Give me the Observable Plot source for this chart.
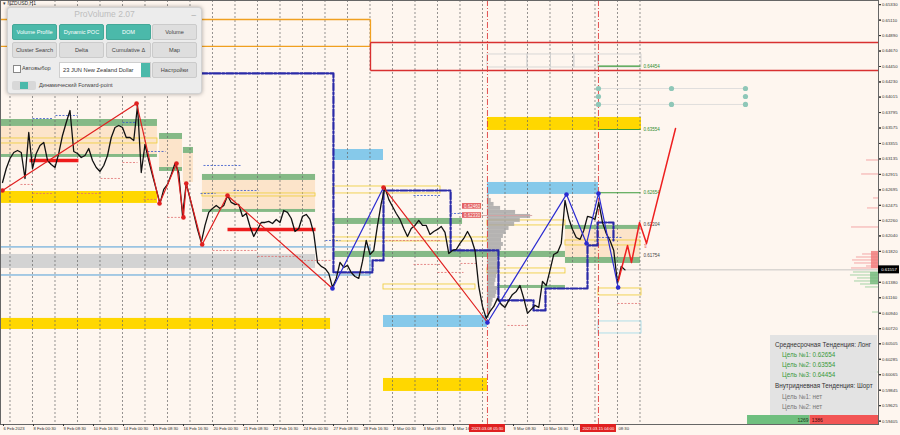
<!DOCTYPE html>
<html>
<head>
<meta charset="utf-8">
<script src="https://cdn.jsdelivr.net/npm/d3@7"></script>
<script src="https://cdn.jsdelivr.net/npm/@observablehq/plot@0.6"></script>
<style>
html,body{margin:0;padding:0;background:#fef6ef;}
#wrap{position:relative;width:900px;height:435px;overflow:hidden;background:#fef6ef;font-family:"Liberation Sans",Arial,sans-serif;}
#chart svg{display:block;}
#sym{position:absolute;left:3px;top:0px;font-size:5px;color:#333;}
#pv{position:absolute;left:7px;top:7px;width:193px;height:85px;background:#ececec;border:1px solid #d2d2d2;border-radius:3px;box-shadow:0 0 4px rgba(0,0,0,.35);}
#pv .ttl{position:absolute;left:0;top:1px;width:100%;text-align:center;font-size:8.5px;color:#bdbdbd;}
#pv .min{position:absolute;right:5px;top:-1px;font-size:8px;color:#999;}
.btn{position:absolute;width:45px;height:16px;line-height:15px;text-align:center;font-size:5.6px;border-radius:2px;box-sizing:border-box;}
.teal{background:#4bb9aa;color:#fff;border:1px solid #43a898;}
.gr{background:#dedede;color:#444;border:1px solid #cbcbcb;}
#pv .chk{position:absolute;left:5px;top:57px;width:6px;height:6px;border:1px solid #888;background:#fff;}
#pv .lbl{position:absolute;font-size:5.6px;color:#444;}
#pv .dd{position:absolute;left:51px;top:54px;width:92px;height:16px;background:#fff;border:1px solid #cfcfcf;box-sizing:border-box;font-size:5.7px;line-height:14px;padding-left:3px;color:#333;}
#pv .dd .arr{position:absolute;right:0;top:0;width:9px;height:14px;background:#4bb9aa;}
#pv .tog{position:absolute;left:4px;top:73px;width:24px;height:9px;background:#d8d8d8;border-radius:2px;}
#pv .tog div{position:absolute;left:8px;top:1px;width:8px;height:7px;background:#4bb9aa;}
#info{position:absolute;left:770px;top:335px;width:107px;height:80px;background:rgba(226,226,226,.95);font-size:6.3px;}
#info div{position:absolute;white-space:nowrap;}
.h{color:#333;left:5px;}
.g{color:#3a9a3a;left:12px;}
.n{color:#777;left:12px;}
</style>
</head>
<body>
<div id="wrap">
<div id="chart"></div>
<div id="sym">▾ NZDUSD,H1</div>
<div id="pv">
  <div class="ttl">ProVolume 2.07</div><div class="min">_</div>
  <div class="btn teal" style="left:4px;top:16px">Volume Profile</div>
  <div class="btn teal" style="left:51px;top:16px">Dynamic POC</div>
  <div class="btn teal" style="left:98px;top:16px">DOM</div>
  <div class="btn gr" style="left:144px;top:16px">Volume</div>
  <div class="btn gr" style="left:4px;top:34px">Cluster Search</div>
  <div class="btn gr" style="left:51px;top:34px">Delta</div>
  <div class="btn gr" style="left:98px;top:34px">Cumulative Δ</div>
  <div class="btn gr" style="left:144px;top:34px">Map</div>
  <div class="chk"></div><div class="lbl" style="left:14px;top:57px">Автовыбор</div>
  <div class="dd">23 JUN New Zealand Dollar<div class="arr"></div></div>
  <div class="btn gr" style="left:144px;top:54px">Настройки</div>
  <div class="tog"><div></div></div>
  <div class="lbl" style="left:31px;top:74px">Динамический Forward-point</div>
</div>
<div id="info">
  <div class="h" style="top:6px">Среднесрочная Тенденция: Лонг</div>
  <div class="g" style="top:16px">Цель №1: 0.62654</div>
  <div class="g" style="top:26px">Цель №2: 0.63554</div>
  <div class="g" style="top:36px">Цель №3: 0.64454</div>
  <div class="h" style="top:47px">Внутридневная Тенденция: Шорт</div>
  <div class="n" style="top:58px">Цель №1: нет</div>
  <div class="n" style="top:68px">Цель №2: нет</div>
</div>
</div>
<script>
// ---------------- DATA ----------------
const barStep = 4; // H1 bars between price samples
const closes = [
0.62800,0.62999,0.63141,0.63227,0.63255,0.63227,0.62857,0.63511,0.62999,0.63213,
0.63326,0.63369,0.63113,0.63056,0.63013,0.63213,0.63469,0.63654,0.63824,0.63241,
0.63213,0.63156,0.63184,0.63284,0.63113,0.63013,0.62957,0.63042,0.63184,0.63440,
0.63582,0.63611,0.63582,0.63440,0.63440,0.63398,0.63895,0.62942,0.63341,0.63113,
0.62900,0.62701,0.62502,0.62701,0.62772,0.62914,0.63070,0.62942,0.62330,0.62786,
0.62573,0.62359,0.62132,0.61947,0.62189,0.62374,0.62431,0.62473,0.62431,0.62473,
0.62615,0.62516,0.62488,0.62488,0.62317,0.62359,0.62174,0.62032,0.62132,0.62231,
0.62231,0.62246,0.62217,0.62274,0.62231,0.62402,0.62374,0.62288,0.62103,0.62146,
0.62317,0.62345,0.62274,0.62075,0.61662,0.61606,0.61577,0.61506,0.61307,0.61435,
0.61662,0.61591,0.61620,0.61520,0.61463,0.61435,0.61677,0.61975,0.61776,0.61833,
0.62189,0.62502,0.62729,0.62559,0.62459,0.62359,0.62274,0.62146,0.62032,0.62146,
0.62189,0.62260,0.62189,0.62189,0.62061,0.62103,0.62132,0.62174,0.62089,0.61790,
0.61833,0.61847,0.61933,0.62004,0.62103,0.62004,0.61833,0.61321,0.61037,0.60866,
0.60966,0.61037,0.61151,0.61066,0.61023,0.61123,0.61208,0.61250,0.61335,0.61151,
0.60938,0.60995,0.61052,0.61023,0.61392,0.61335,0.61549,0.61776,0.61805,0.61933,
0.62544,0.62288,0.62132,0.62018,0.61990,0.62117,0.62317,0.62303,0.62274,0.62516,
0.62231,0.62075,0.61975,0.61833,0.61364,0.61606,0.61557
];
const currentPrice = 0.61557;

const xTickBars = [0,32,64,96,128,160,192,224,256,288,320,352,384,416,448,480,512,544,576,608,640];
// labels as visible on the reference (ones covered by the event tags shortened / left out)
const xTickLabels = ["6 Feb 2023","8 Feb 00:30","9 Feb 08:30","10 Feb 16:30","14 Feb 00:30","15 Feb 08:30","16 Feb 16:30","20 Feb 00:30","21 Feb 08:30","22 Feb 16:30","24 Feb 00:30","27 Feb 08:30","28 Feb 16:30","2 Mar 00:30","3 Mar 08:30","6 Mar 16","","9 Mar 08:30","10 Mar 16:30","14",""];
const tailLabelBar = 640, tailLabel = "08:30";
const dayBars = [8,32,56,80,104,128,152,176,200,224,248,272,296,320,344,368,392,416,440,464,488,512,536,560,584,608,632,656,680];
const yTicks = [0.65330,0.65110,0.64890,0.64670,0.64450,0.64230,0.64015,0.63795,0.63575,0.63355,0.63135,0.62915,0.62695,0.62475,0.62260,0.62040,0.61820,0.61600,0.61380,0.61160,0.60940,0.60720,0.60505,0.60285,0.60065,0.59845,0.59625,0.59405];

const zigBars   = [0,143,167.5,185.6,193,196,213,240,352,406.4,517.3,601.6,623,635.7,656.7];
const zigPrices = [0.62686,0.63924,0.62502,0.63070,0.62303,0.62786,0.61918,0.62615,0.61292,0.62729,0.60808,0.62630,0.61933,0.62644,0.61307];
const futureBars   = [657,666.7,670.9,679.5,687,717.9];
const futurePrices = [0.61406,0.61904,0.61662,0.62231,0.61933,0.63568];
const signalBar = 686, signalPrice = 0.61890;

const stairBars   = [211,353,353,394.7,394.7,406.4,406.4,478,478,529,529,566.4,566.4,579.2,579.2,624,624,634.7,634.7,651.7,651.7];
const stairPrices = [0.64351,0.64351,0.61520,0.61520,0.61691,0.61691,0.62686,0.62686,0.61833,0.61833,0.61123,0.61123,0.60980,0.60980,0.61292,0.61292,0.61904,0.61904,0.62231,0.62231,0.61975];

const peachZones = [[-3,165.3,0.63597,0.63198],[167.5,192,0.63412,0.63013],[193,203.7,0.63213,0.62800],[213.3,333.9,0.62829,0.62416],[600.5,680.5,0.62132,0.61733]];
const grayZones  = [[-3,333.9,0.61776,0.61577]];
const goldZones  = [[-3,165.3,0.62672,0.62502],[-3,349.9,0.60866,0.60709],[517.3,681.6,0.63725,0.63540],[406.4,517.3,0.60012,0.59827]];
const blueZones  = [[353,406.4,0.63269,0.63113],[517.3,635.7,0.62800,0.62630],[406.4,517.3,0.60908,0.60737]];
const greenZones = [[-3,165.3,0.63696,0.63597],[-3,165.3,0.63198,0.63156],[167.5,192,0.63497,0.63412],[167.5,192,0.63013,0.62957],[193,203.7,0.63298,0.63213],[213.3,333.9,0.62914,0.62829],[213.3,333.9,0.62416,0.62374],[353,490.7,0.62288,0.62203],[353,600.5,0.61819,0.61733],[528,600.5,0.61335,0.61292],[600.5,680.5,0.62189,0.62132],[600.5,680.5,0.61733,0.61648]];
const yellowBoxes = [[-3,165.3,0.63426,0.63355],[213.3,333.9,0.62644,0.62601],[353,467.2,0.62743,0.62644],[353,517.3,0.62018,0.61961],[517.3,600.5,0.62260,0.62189],[517.3,600.5,0.61577,0.61506],[600.5,680.5,0.61975,0.61904],[635.7,681.6,0.61292,0.61193],[406.4,504.5,0.61349,0.61278]];
const blueBoxes = [[-3,392.5,0.61876,0.61477]];
const cyanBoxes = [[635.7,681.6,0.60823,0.60652]];
const grayBoxes = [[517.3,560,0.64621,0.64436],[560,585,0.64621,0.64436],[585,610,0.64621,0.64436],[610,635.7,0.64621,0.64436],[635.7,681.6,0.64621,0.64436]];

const orangeLevels = [0.65119,0.64735];
const redLevels = [0.64792,0.64393];
const levelSplitBar = 392.5;
const thickRed = [[28.8,81,0.63113],[240,333.9,0.62132]];
const redDashes = [[19.2,32,0.62772],[32,54.4,0.62644],[80,104.5,0.62644],[104.5,125.9,0.62857],[128,144,0.63084],[150.4,165.3,0.62559],[176,192,0.62303],[224,272,0.61833],[272,317.9,0.61748],[317.9,350,0.61691],[408.5,467.2,0.61975],[438.4,467.2,0.61634],[464,491.7,0.61520],[488.5,506.7,0.61648],[538.7,560,0.60766],[656,680.5,0.61079]];
const blueDashes = [[32,54.4,0.63710],[56.5,80,0.63753],[128,141.9,0.63654],[154.7,173.9,0.63241],[211.2,227.2,0.62644],[214.4,253.9,0.63042],[246.4,273,0.62686],[344.5,360.5,0.61975],[438.4,467.2,0.62615],[477.9,502.4,0.62359],[635.7,661.3,0.62018]];

const targetPrices = [0.62654,0.63554,0.64454];
const zoneLabelPrices = [0.62204,0.61754];
const targetStartBar = 635.7, targetEndBar = 680.5;
const tealDots = [[635.7,0.64137],[713.6,0.64137],[792.5,0.64137],[635.7,0.64023],[792.5,0.64023],[635.7,0.63910],[713.6,0.63910],[792.5,0.63910]];
const tealLines = [0.64137,0.63910];

const vpStartBar = 517.3;
const vpPrices = [0.62601,0.62544,0.62488,0.62431,0.62374,0.62317,0.62260,0.62203,0.62146,0.62089,0.62032,0.61975,0.61918,0.61861,0.61805,0.61748,0.61691,0.61634,0.61577,0.61520,0.61463,0.61406,0.61349,0.61292,0.61235,0.61179,0.61122,0.61065,0.61008,0.60951,0.60894];
const vpVolumes = [2,4,7,14,30,46,35,29,23,20,17,15,17,15,13,12,11,14,13,11,10,9,8,11,10,9,6,5,4,3,2];
const priceTags = [0.62460,0.62330];
const tagBars = [490.7,511];
const pocLine = [511,565,0.62330];

const rpPrices  = [0.63113,0.62914,0.62573,0.62431,0.62160,0.61776,0.61733,0.61691,0.61648,0.61605,0.61577,0.61520,0.61477,0.61435,0.61392,0.61349,0.61307,0.60950,0.60097];
const rpVolumes = [12.8,18,5.3,11.7,28.8,17,23.5,27.7,25.6,12.8,28.8,26.7,29.9,22.4,25.6,19.2,13.9,6.4,8.5];
const rpCore = [[0.61819,0.61577,7.5],[0.61520,0.61349,8.5]];

const eventBars = [517.3,635.7];
const eventLabels = ["2023.03.08 05:30","2023.03.15 04:00"];
const buyVolume = 1269, sellVolume = 1386;

// ---------------- CHART ----------------
const xMin = -2.133, xMax = 934.4, yMin = 0.59357, yMax = 0.65389;
const priceData = closes.map((c,i)=>({bar:i*barStep, price:c}));
const zig = zigBars.map((b,i)=>({bar:b, price:zigPrices[i]}));
const redLegs = [zig.slice(0,9), zig.slice(9,11)];
const blueLegs = [zig.slice(8,10), zig.slice(10)];
const redDots = zig.filter((d,i)=>i<8 || i===9);
const blueDots = zig.filter((d,i)=>i===8 || i>=10);
const future = futureBars.map((b,i)=>({bar:b, price:futurePrices[i]}));
const stairs = stairBars.map((b,i)=>({bar:b, price:stairPrices[i]}));
const vp = vpPrices.map((p,i)=>({p, v:vpVolumes[i]}));
const rp = rpPrices.map((p,i)=>({p, v:rpVolumes[i]}));
const labelByBar = new Map(xTickBars.map((b,i)=>[b, xTickLabels[i]]));
const labeledBars = xTickBars.filter((b,i)=>xTickLabels[i] !== "");
const vpHalf = 0.00028, rpHalf = 0.00011;
const events = eventBars.map((b,i)=>({bar:b, label:eventLabels[i]}));
const volStart = 794.7;
const volSplit = volStart + (xMax - volStart) * buyVolume / (buyVolume + sellVolume);
const yLabeled = yTicks.filter(d => Math.abs(d - currentPrice) >= 0.0005);

const box = (arr, o) => Plot.rect(arr, {x1:d=>d[0], x2:d=>d[1], y1:d=>d[2], y2:d=>d[3], ...o});
const seg = (arr, o) => Plot.link(arr, {x1:d=>d[0], x2:d=>d[1], y1:d=>d[2], y2:d=>d[2], ...o});

const chart = Plot.plot({
  width: 900, height: 435,
  marginTop: 0, marginBottom: 11, marginLeft: 0, marginRight: 22,
  x: {domain: [xMin, xMax], axis: null},
  y: {domain: [yMin, yMax], axis: null},
  style: {background: "transparent", fontFamily: "Liberation Sans, Arial, sans-serif", overflow: "visible"},
  marks: [
    box(peachZones, {fill: "#fbe0c0", fillOpacity: 0.8}),
    box(grayZones, {fill: "#d3d3d3"}),
    box(goldZones, {fill: "#ffd700"}),
    box(blueZones, {fill: "#86c9ea"}),
    box(greenZones, {fill: "#78b27a", fillOpacity: 0.9}),
    Plot.ruleX(dayBars, {stroke: "#666", strokeDasharray: "2,2", strokeWidth: 0.7}),
    box(yellowBoxes, {fill: "none", stroke: "#f0cf45", strokeWidth: 0.9}),
    box(blueBoxes, {fill: "none", stroke: "#3d95d6", strokeWidth: 0.9}),
    box(cyanBoxes, {fill: "none", stroke: "#a8dce8", strokeWidth: 0.9}),
    box(grayBoxes, {fill: "none", stroke: "#d0d0d0", strokeWidth: 0.8}),
    Plot.rect(vp, {x1: () => vpStartBar, x2: d => vpStartBar + d.v, y1: d => d.p - vpHalf, y2: d => d.p + vpHalf, fill: "#a3a3a3", fillOpacity: 0.8}),
    seg([pocLine], {stroke: "#d4a3a3", strokeWidth: 0.9}),
    Plot.rect(rp, {x1: d => xMax - d.v, x2: () => xMax, y1: d => d.p - rpHalf, y2: d => d.p + rpHalf, fill: d => d.p > currentPrice ? "#f4a0a0" : "#9fd0a0", fillOpacity: 0.6}),
    Plot.rect(rpCore, {x1: d => xMax - d[2], x2: () => xMax, y1: d => d[0], y2: d => d[1], fill: d => d[0] > currentPrice ? "#f07878" : "#70b878", fillOpacity: 0.8}),
    Plot.link(orangeLevels, {x1: () => xMin - 1, x2: () => levelSplitBar, y1: d => d, y2: d => d, stroke: "#f0a020", strokeWidth: 1.3}),
    Plot.link([orangeLevels], {x1: () => levelSplitBar, x2: () => levelSplitBar, y1: d => d[0], y2: d => d[1], stroke: "#f0a020", strokeWidth: 1.3}),
    Plot.link(redLevels, {x1: () => levelSplitBar, x2: () => xMax, y1: d => d, y2: d => d, stroke: "#d83030", strokeWidth: 1.4}),
    Plot.link([redLevels], {x1: () => levelSplitBar, x2: () => levelSplitBar, y1: d => d[0], y2: d => d[1], stroke: "#d83030", strokeWidth: 1.4}),
    seg(redDashes, {stroke: "#e07070", strokeWidth: 0.8, strokeDasharray: "2,1.5"}),
    seg(blueDashes, {stroke: "#3355cc", strokeWidth: 0.8, strokeDasharray: "2,1.5"}),
    seg(thickRed, {stroke: "#ee1c1c", strokeWidth: 3.5}),
    Plot.ruleX(eventBars, {stroke: "#e04040", strokeWidth: 0.9, strokeDasharray: "6,2,1,2"}),
    Plot.line(stairs, {x: "bar", y: "price", stroke: "#2a2aa8", strokeWidth: 2.2, strokeDasharray: "7,2,2,2"}),
    Plot.link(targetPrices, {x1: () => targetStartBar, x2: () => targetEndBar, y1: d => d, y2: d => d, stroke: "#3a9a3a", strokeWidth: 1.2}),
    Plot.text(targetPrices, {x: () => targetEndBar, y: d => d, text: d => d.toFixed(5), dx: 3, textAnchor: "start", fill: "#2e8b2e", fontSize: 4.5}),
    Plot.text(zoneLabelPrices, {x: () => targetEndBar, y: d => d, text: d => d.toFixed(5), dx: 3, textAnchor: "start", fill: "#444", fontSize: 4.5}),
    Plot.link(tealLines, {x1: () => tealDots[0][0], x2: () => tealDots[2][0], y1: d => d, y2: d => d, stroke: "#d8d8d8", strokeWidth: 0.8}),
    Plot.dot(tealDots, {x: d => d[0], y: d => d[1], r: 2.6, fill: "#8fc7b8"}),
    Plot.ruleY([currentPrice], {x1: () => 655, x2: () => xMax, stroke: "#b0b0b0", strokeWidth: 0.7}),
    Plot.line(priceData, {x: "bar", y: "price", stroke: "#111", strokeWidth: 1.3}),
    ...redLegs.map(l => Plot.line(l, {x: "bar", y: "price", stroke: "#e02020", strokeWidth: 1.2})),
    ...blueLegs.map(l => Plot.line(l, {x: "bar", y: "price", stroke: "#2b2bd0", strokeWidth: 1.2})),
    Plot.dot(redDots, {x: "bar", y: "price", r: 2.3, fill: "#e02020"}),
    Plot.dot(blueDots, {x: "bar", y: "price", r: 2.3, fill: "#2b2bd0"}),
    Plot.line(future, {x: "bar", y: "price", stroke: "#ee2020", strokeWidth: 1.5}),
    Plot.text([signalPrice], {x: () => signalBar, y: d => d, text: () => "⇧", fill: "#e03030", fontSize: 6}),
    Plot.rect(priceTags, {x1: () => tagBars[0], x2: () => tagBars[1], y1: d => d, y2: d => d, insetTop: -2.8, insetBottom: -2.8, fill: "#e35d5d"}),
    Plot.text(priceTags, {x: () => (tagBars[0] + tagBars[1]) / 2, y: d => d, text: d => d.toFixed(5), fill: "#fff", fontSize: 4.5}),
    Plot.frame({stroke: "#666", strokeWidth: 1}),
    Plot.axisY(yTicks, {anchor: "right", tickFormat: null, text: null, tickSize: 2, label: null, color: "#333"}),
    Plot.axisY(yLabeled, {anchor: "right", tickFormat: d => d.toFixed(5), fontSize: 4.3, tickSize: 2, tickPadding: 1.5, label: null, color: "#333"}),
    Plot.axisX(labeledBars, {anchor: "bottom", tickFormat: d => labelByBar.get(d), fontSize: 4.2, tickSize: 2, tickPadding: 1, textAnchor: "start", dx: 1, label: null, color: "#333"}),
    Plot.text([tailLabel], {x: () => tailLabelBar, y: () => yMin, dy: 4.5, dx: 16, text: d => d, textAnchor: "start", fontSize: 4.2, fill: "#333"}),
    Plot.rect([currentPrice], {x1: () => xMax, x2: () => xMax, y1: d => d, y2: d => d, insetRight: -21, insetTop: -4, insetBottom: -4, fill: "#000"}),
    Plot.text([currentPrice], {x: () => xMax, y: d => d, dx: 10.5, text: d => d.toFixed(5), fill: "#fff", fontSize: 4.3}),
    Plot.rect(events, {x1: "bar", x2: "bar", y1: () => yMin, y2: () => yMin, insetLeft: -18, insetRight: -18, insetBottom: -8, fill: "#e02020"}),
    Plot.text(events, {x: "bar", y: () => yMin, dy: 4.5, text: "label", fill: "#fff", fontSize: 4.1}),
    Plot.rect([buyVolume], {x1: () => volStart, x2: () => volSplit, y1: () => yMin, y2: () => yMin, insetTop: -9, fill: "#6fbf7f"}),
    Plot.rect([sellVolume], {x1: () => volSplit, x2: () => xMax, y1: () => yMin, y2: () => yMin, insetTop: -9, fill: "#f25555"}),
    Plot.text([buyVolume], {x: () => volSplit, y: () => yMin, dy: -4.5, dx: -1.5, text: d => String(d), textAnchor: "end", fill: "#1a3a1a", fontSize: 5}),
    Plot.text([sellVolume], {x: () => volSplit, y: () => yMin, dy: -4.5, dx: 1.5, text: d => String(d), textAnchor: "start", fill: "#3a0a0a", fontSize: 5})
  ]
});
document.getElementById("chart").appendChild(chart);
</script>
</body>
</html>
